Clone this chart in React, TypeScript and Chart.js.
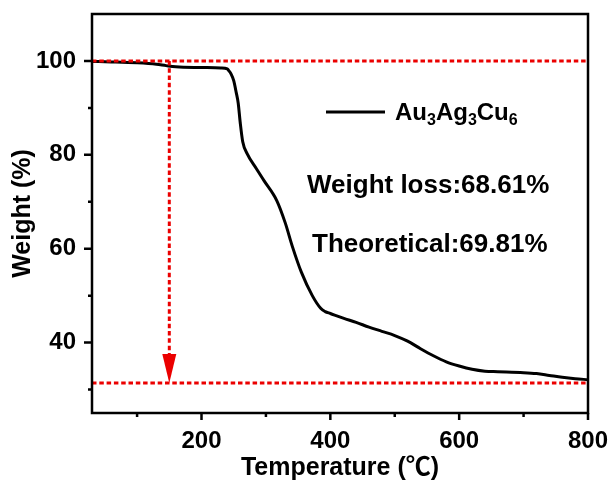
import { useEffect, useRef } from 'react';
import { Chart, registerables } from 'chart.js';

Chart.register(...registerables);

// TGA curve of Au3Ag3Cu6 (temperature in °C, remaining weight in %)
const temperature = [
  30, 60, 100, 130, 145, 160, 200, 230, 240, 242, 246, 250, 254, 257, 260, 264, 271,
  285, 297, 317, 330, 341, 355, 372, 385, 392, 400, 420, 440, 460, 480, 500, 520, 540,
  560, 580, 600, 620, 640, 660, 700, 720, 740, 760, 780, 800,
];
const weight = [
  99.9, 99.8, 99.6, 99.3, 99.0, 98.75, 98.6, 98.5, 98.3, 98.0, 97.2, 95.8, 93.2, 91.0, 87.0, 82.8, 80.2,
  77.1, 74.5, 70.2, 65.5, 60.5, 55.0, 50.0, 47.3, 46.6, 46.2, 45.2, 44.3, 43.3, 42.4, 41.5, 40.3, 38.7,
  37.2, 35.9, 35.0, 34.3, 33.9, 33.8, 33.6, 33.4, 33.0, 32.6, 32.3, 32.1,
];

const xMajorTicks = [200, 400, 600, 800];
const xMinorTicks = [100, 300, 500, 700];
const yMajorTicks = [40, 60, 80, 100];
const yMinorTicks = [30, 50, 70, 90];

const initialWeight = 100;
const weightLoss = 68.61;
const theoreticalLoss = 69.81;
const residualWeight = initialWeight - weightLoss;
const markerTemperature = 150;

const formula: [string, boolean][] = [
  ['Au', false], ['3', true], ['Ag', false], ['3', true], ['Cu', false], ['6', true],
];

const FONT = "'Liberation Sans', Arial, 'Noto Sans CJK SC', sans-serif";
const RED = 'rgb(235, 0, 0)';

const overlay = {
  id: 'tgaOverlay',
  afterDatasetsDraw(chart: any) {
    const { ctx, chartArea: a, scales } = chart;
    const xs = scales.x;
    const ys = scales.y;
    ctx.save();

    // red dashed reference lines and drop arrow
    const yTop = ys.getPixelForValue(initialWeight);
    const yRes = ys.getPixelForValue(residualWeight);
    const xm = xs.getPixelForValue(markerTemperature);
    const headH = 29;
    const headW = 7;
    ctx.strokeStyle = RED;
    ctx.lineWidth = 3;
    ctx.setLineDash([4.5, 2.8]);
    for (const yy of [yTop, yRes]) {
      ctx.beginPath();
      ctx.moveTo(a.left, yy);
      ctx.lineTo(a.right, yy);
      ctx.stroke();
    }
    ctx.beginPath();
    ctx.moveTo(xm, yTop);
    ctx.lineTo(xm, yRes - headH);
    ctx.stroke();
    ctx.setLineDash([]);
    ctx.fillStyle = RED;
    ctx.beginPath();
    ctx.moveTo(xm - headW, yRes - headH);
    ctx.lineTo(xm + headW, yRes - headH);
    ctx.lineTo(xm, yRes);
    ctx.closePath();
    ctx.fill();

    // frame and outward ticks
    ctx.strokeStyle = '#000';
    ctx.lineWidth = 2.5;
    ctx.strokeRect(a.left, a.top, a.right - a.left, a.bottom - a.top);
    ctx.beginPath();
    for (const v of xMajorTicks) {
      const p = xs.getPixelForValue(v);
      ctx.moveTo(p, a.bottom);
      ctx.lineTo(p, a.bottom + 7);
    }
    for (const v of xMinorTicks) {
      const p = xs.getPixelForValue(v);
      ctx.moveTo(p, a.bottom);
      ctx.lineTo(p, a.bottom + 4);
    }
    for (const v of yMajorTicks) {
      const p = ys.getPixelForValue(v);
      ctx.moveTo(a.left, p);
      ctx.lineTo(a.left - 8, p);
    }
    for (const v of yMinorTicks) {
      const p = ys.getPixelForValue(v);
      ctx.moveTo(a.left, p);
      ctx.lineTo(a.left - 4, p);
    }
    ctx.stroke();

    // legend entry
    const ly = a.top + 98;
    ctx.lineWidth = 3;
    ctx.beginPath();
    ctx.moveTo(a.left + 234, ly);
    ctx.lineTo(a.left + 293, ly);
    ctx.stroke();
    ctx.fillStyle = '#000';
    ctx.textAlign = 'left';
    ctx.textBaseline = 'alphabetic';
    let tx = a.left + 303;
    const base = a.top + 106;
    for (const [txt, sub] of formula) {
      ctx.font = `bold ${sub ? 16 : 24}px ${FONT}`;
      ctx.fillText(txt, tx, sub ? base + 5 : base);
      tx += ctx.measureText(txt).width;
    }

    // annotations
    ctx.font = `bold 26px ${FONT}`;
    ctx.fillText(`Weight loss:${weightLoss.toFixed(2)}%`, a.left + 215, a.top + 179);
    ctx.fillText(`Theoretical:${theoreticalLoss.toFixed(2)}%`, a.left + 220, a.top + 238);

    ctx.restore();
  },
};

export default function App() {
  const canvasRef = useRef<HTMLCanvasElement | null>(null);

  useEffect(() => {
    const canvas = canvasRef.current;
    if (!canvas) return;
    const tickFont = { family: FONT, weight: 'bold' as const, size: 24, lineHeight: 1 };
    const titleFont = { family: FONT, weight: 'bold' as const, size: 25, lineHeight: 1 };

    const chart = new Chart(canvas, {
      type: 'line',
      data: {
        datasets: [
          {
            label: 'Au3Ag3Cu6',
            data: temperature.map((t, i) => ({ x: t, y: weight[i] })),
            borderColor: '#000',
            borderWidth: 3,
            pointRadius: 0,
            fill: false,
            cubicInterpolationMode: 'monotone',
          },
        ],
      },
      options: {
        responsive: false,
        animation: false,
        devicePixelRatio: 1,
        layout: { padding: { top: 14, right: 23, bottom: 0, left: 0 } },
        plugins: { legend: { display: false }, tooltip: { enabled: false } },
        scales: {
          x: {
            type: 'linear',
            min: 30,
            max: 800,
            grid: { display: false, tickLength: 8 },
            border: { display: false },
            ticks: { color: '#000', font: tickFont, padding: 8, maxRotation: 0 },
            afterBuildTicks: (s: any) => {
              s.ticks = xMajorTicks.map((value) => ({ value }));
            },
            afterFit: (s: any) => {
              s.height = 68;
              s.paddingLeft = 0;
              s.paddingRight = 0;
            },
            title: {
              display: true,
              text: 'Temperature (℃)',
              color: '#000',
              font: titleFont,
              padding: { top: 0, bottom: 0 },
            },
          },
          y: {
            type: 'linear',
            min: 25,
            max: 110,
            grid: { display: false, tickLength: 8 },
            border: { display: false },
            ticks: { color: '#000', font: tickFont, padding: 8 },
            afterBuildTicks: (s: any) => {
              s.ticks = yMajorTicks.map((value) => ({ value }));
            },
            afterFit: (s: any) => {
              s.width = 92;
              s.paddingTop = 0;
              s.paddingBottom = 0;
            },
            title: {
              display: true,
              text: 'Weight (%)',
              color: '#000',
              font: titleFont,
              padding: { top: 10.5, bottom: 0 },
            },
          },
        },
      },
      plugins: [overlay],
    } as any);

    return () => chart.destroy();
  }, []);

  return (
    <div style={{ position: 'fixed', left: 0, top: 0, width: 611, height: 481, background: '#fff' }}>
      <canvas ref={canvasRef} width={611} height={481} style={{ display: 'block' }} />
    </div>
  );
}
